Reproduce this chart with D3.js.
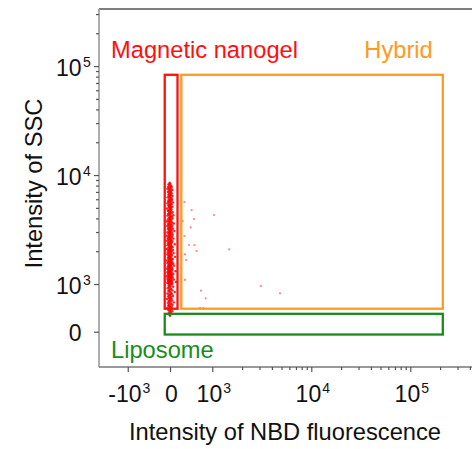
<!DOCTYPE html>
<html><head><meta charset="utf-8">
<script src="https://cdn.jsdelivr.net/npm/d3@7"></script>
<style>
body{margin:0;background:#fff}
svg{display:block}
text{font-family:"Liberation Sans",Arial,Helvetica,sans-serif}
</style>
</head><body>
<svg id="chart" width="472" height="449"></svg>
<script>
// ---------- data ----------
const xDomain = [-1680, 420000];      // NBD fluorescence
const yDomain = [-740, 334000];       // SSC
const xMajorTicks = [-1000, 0, 1000, 10000, 100000];
const xMajorLabels = [["-10","3"],["0",""],["10","3"],["10","4"],["10","5"]];
const xMinorTicks = [2000,3000,4000,5000,6000,7000,8000,9000,20000,30000,40000,50000,60000,70000,80000,90000,200000,300000,400000];
const yMajorTicks = [0, 1000, 10000, 100000];
const yMajorLabels = [["0",""],["10","3"],["10","4"],["10","5"]];
const yMinorTicks = [2000,3000,4000,5000,6000,7000,8000,9000,20000,30000,40000,50000,60000,70000,80000,90000,200000,300000];

const gateNames  = ["Magnetic nanogel", "Hybrid", "Liposome"];
const gateNBDmin = [-125, 267, -125];
const gateNBDmax = [177, 213000, 213000];
const gateSSCmin = [482, 482, -59];
const gateSSCmax = [83200, 83200, 375];
const gateColors = ["#ff1010", "#ff9a22", "#1a8c1a"];

// events [NBD, SSC]
const coreEvents = [
[-10,8520],[5,8310],[-35,8250],[-20,8090],[25,8020],
[-5,7880],[-45,7820],[40,7760],[10,7640],[-25,7560],[-60,7490],
[30,7420],[-15,7350],[55,7280],[-30,7200],[0,7130],[20,7060],
[-50,6990],[15,6920],[-5,6860],[45,6790],[-20,6730],[5,6660],
[-40,6610],[25,6540],[-10,6480],[60,6420],[-25,6360],[10,6300],
[-55,6240],[-5,6180],[35,6120],[15,6060],[-30,6000],[50,5940],
[-15,5880],[5,5830],[-45,5770],[30,5720],[-20,5670],[70,5610],
[-5,5560],[-60,5510],[20,5460],[40,5410],[-25,5360],[0,5310],
[-40,5260],[15,5210],[-10,5160],[55,5120],[-30,5080],[25,5030],
[-15,4980],[-70,4940],[10,4890],[35,4850],[-5,4800],[-35,4760],
[20,4720],[-50,4680],[0,4630],[65,4590],[-20,4550],[15,4510],
[-10,4470],[40,4430],[-45,4390],[5,4350],[-25,4310],[80,4270],
[-60,4240],[25,4200],[-5,4160],[45,4130],[-15,4090],[10,4050],
[-35,4020],[60,3990],[-5,3950],[20,3920],[-55,3880],[0,3850],
[-20,3820],[35,3780],[-75,3750],[10,3720],[-30,3690],[50,3650],
[-10,3620],[90,3590],[-45,3560],[25,3530],[-5,3500],[-25,3470],
[55,3440],[-65,3410],[15,3380],[-15,3350],[40,3320],[-40,3290],
[5,3270],[-20,3240],[70,3210],[-50,3190],[20,3160],[-5,3140],
[35,3110],[-30,3090],[100,3060],[-10,3040],[15,3010],[-60,2990],
[45,2970],[-25,2940],[0,2920],[-40,2900],[30,2870],[-15,2850],
[65,2830],[-5,2800],[-80,2780],[10,2760],[-35,2740],[50,2720],
[-20,2700],[25,2680],[-55,2650],[5,2630],[80,2610],[-10,2590],
[-45,2570],[35,2550],[-25,2530],[15,2510],[-70,2490],[55,2470],
[-5,2450],[-30,2430],[20,2410],[40,2390],[-50,2370],[0,2350],
[-15,2340],[110,2320],[-35,2300],[25,2280],[-60,2265],[10,2250],
[-20,2230],[45,2210],[-5,2195],[60,2180],[-40,2160],[15,2145],
[-10,2130],[30,2110],[-75,2095],[5,2080],[-25,2065],[70,2050],
[-45,2035],[20,2020],[-5,2005],[40,1990],[-15,1975],[-55,1960],
[10,1945],[85,1930],[-30,1915],[-5,1900],[25,1885],[-65,1870],
[50,1855],[-20,1840],[5,1828],[-40,1815],[30,1800],[-10,1787],
[120,1775],[-30,1762],[15,1750],[-50,1738],[0,1725],[45,1712],
[-15,1700],[65,1688],[-35,1676],[20,1665],[-5,1653],[-80,1642],
[35,1630],[-25,1619],[10,1608],[-45,1597],[55,1586],[-10,1575],
[25,1565],[-60,1555],[0,1544],[75,1534],[-20,1524],[40,1514],
[-5,1504],[-40,1494],[15,1484],[95,1475],[-30,1465],[-10,1456],
[30,1446],[-55,1437],[10,1428],[-15,1419],[50,1410],[-35,1401],
[5,1392],[-70,1383],[25,1375],[-5,1366],[60,1358],[-25,1350],
[15,1341],[-45,1333],[40,1325],[-10,1317],[130,1309],[-30,1301],
[20,1293],[-60,1285],[0,1278],[45,1270],[-15,1263],[-40,1255],
[10,1248],[80,1240],[-20,1233],[-50,1226],[30,1219],[-5,1212],
[55,1205],[-30,1198],[15,1191],[-10,1184],[-75,1177],[35,1170],
[5,1164],[-25,1157],[65,1151],[-45,1144],[20,1138],[-5,1132],
[40,1126],[-15,1120],[-60,1113],[10,1107],[90,1101],[-30,1095],
[-5,1090],[25,1084],[-50,1078],[50,1072],[-20,1067],[0,1061],
[-35,1056],[15,1050],[140,1045],[-10,1040],[35,1034],[-65,1029],
[5,1024],[-25,1019],[60,1014],[-45,1009],[20,1004],[-5,1000],
[40,990],[-15,978],[-35,965],[10,955],[75,943],[-25,932],
[-5,920],[-55,910],[30,898],[15,887],[-20,876],[55,866],
[-40,855],[0,845],[110,834],[-10,823],[25,812],[-60,802],
[45,791],[-30,781],[5,771],[-15,760],[70,750],[-45,740],
[20,729],[-5,719],[-25,709],[35,698],[-70,688],[10,678],
[-10,667],[50,657],[-35,647],[15,636],[-20,626],[90,616],
[-50,605],[0,595],[30,585],[-15,574],[60,564],[-40,554],
[5,543],[-25,533],[40,523],[-5,512],[-60,502],[20,492],
[35,481],[-20,471],[0,461],[-35,450],[10,440],[55,430],
[-10,420],[20,405],[-30,390],[5,375],[-15,355],[0,335]
];
const outlierEvents = [
[338,5650],[513,4770],[1040,4300],[567,3950],[300,3780],[489,3310],
[338,2760],[449,2280],[574,2280],[631,2010],[1485,2080],[355,1870],
[378,1660],[355,1090],[3100,958],[733,860],[4830,805],[844,700],
[709,497],[787,497]
];

// ---------- scales ----------
function biexTransform(linDecades){
  return v => v <= 1000 ? (v / 1000) * linDecades : linDecades + Math.log10(v / 1000);
}
const tx = biexTransform(0.427), ty = biexTransform(0.4376);
const plotLeft = 99, plotRight = 472, plotTop = 9, plotBottom = 367;
const xT = d3.scaleLinear().domain(xDomain.map(tx)).range([plotLeft, plotRight]);
const yT = d3.scaleLinear().domain(yDomain.map(ty)).range([plotBottom, plotTop]);
const x = v => xT(tx(v));
const y = v => yT(ty(v));

const svg = d3.select("#chart");

// frame
svg.append("line").attr("x1", plotLeft).attr("x2", plotRight).attr("y1", plotTop).attr("y2", plotTop)
  .attr("stroke", "#555").attr("stroke-width", 1.6);
svg.append("line").attr("x1", plotLeft).attr("x2", plotLeft).attr("y1", plotTop).attr("y2", plotBottom)
  .attr("stroke", "#9a9a9a").attr("stroke-width", 1.6);
svg.append("line").attr("x1", plotLeft).attr("x2", plotRight).attr("y1", plotBottom).attr("y2", plotBottom)
  .attr("stroke", "#777").attr("stroke-width", 1.6);

// axes ticks
function tickAxis(axis, g){ g.call(axis); g.select(".domain").remove(); g.selectAll("line").attr("stroke", "#555").attr("stroke-width", 1.2); }
tickAxis(d3.axisBottom(xT).tickValues(xMajorTicks.map(tx)).tickSize(5).tickFormat(""),
  svg.append("g").attr("transform", `translate(0,${plotBottom})`));
tickAxis(d3.axisBottom(xT).tickValues(xMinorTicks.map(tx)).tickSize(3).tickFormat(""),
  svg.append("g").attr("transform", `translate(0,${plotBottom})`));
tickAxis(d3.axisLeft(yT).tickValues(yMajorTicks.map(ty)).tickSize(5).tickFormat(""),
  svg.append("g").attr("transform", `translate(${plotLeft},0)`));
tickAxis(d3.axisLeft(yT).tickValues(yMinorTicks.map(ty)).tickSize(3).tickFormat(""),
  svg.append("g").attr("transform", `translate(${plotLeft},0)`));

// x tick labels
const xl = svg.append("g").selectAll("text").data(xMajorTicks).join("text")
  .attr("x", d => x(d) + 1.5).attr("y", 401.5).attr("text-anchor", "middle")
  .attr("fill", "#111").attr("font-size", 23);
xl.append("tspan").text((d, i) => xMajorLabels[i][0]);
xl.append("tspan").attr("dy", -9).attr("dx", 1).attr("font-size", 14).text((d, i) => xMajorLabels[i][1]);

// y tick labels
svg.append("g").selectAll("text").data(yMajorTicks).join("text")
  .attr("x", 81.5).attr("y", d => y(d) + 9.5).attr("text-anchor", "end")
  .attr("fill", "#111").attr("font-size", 23).text((d, i) => yMajorLabels[i][0]);
svg.append("g").selectAll("text").data(yMajorTicks).join("text")
  .attr("x", 83).attr("y", d => y(d) + 1).attr("fill", "#111").attr("font-size", 14)
  .text((d, i) => yMajorLabels[i][1]);

// axis titles
svg.append("text").attr("x", 285).attr("y", 440).attr("text-anchor", "middle")
  .attr("font-size", 23.7).attr("fill", "#111").text("Intensity of NBD fluorescence");
svg.append("text").attr("transform", "translate(41.5,183.5) rotate(-90)").attr("text-anchor", "middle")
  .attr("font-size", 23.7).attr("fill", "#111").text("Intensity of SSC");

// events
svg.append("g").selectAll("circle").data(coreEvents).join("circle")
  .attr("cx", d => x(d[0])).attr("cy", d => y(d[1])).attr("r", 1.2)
  .attr("fill", "#ff0000").attr("fill-opacity", 0.85);
svg.append("g").selectAll("circle").data(outlierEvents).join("circle")
  .attr("cx", d => x(d[0])).attr("cy", d => y(d[1])).attr("r", 1.1)
  .attr("fill", "#ff3030").attr("fill-opacity", 0.6);

// gates
svg.append("g").selectAll("rect").data(gateNames).join("rect")
  .attr("x", (d, i) => x(gateNBDmin[i])).attr("y", (d, i) => y(gateSSCmax[i]))
  .attr("width", (d, i) => x(gateNBDmax[i]) - x(gateNBDmin[i]))
  .attr("height", (d, i) => y(gateSSCmin[i]) - y(gateSSCmax[i]))
  .attr("fill", "none").attr("stroke", (d, i) => gateColors[i]).attr("stroke-width", 2.3);

// gate labels
svg.append("text").attr("x", 111).attr("y", 58.3).attr("font-size", 23.7).attr("fill", gateColors[0]).text(gateNames[0]);
svg.append("text").attr("x", 364.3).attr("y", 58.3).attr("font-size", 23.7).attr("fill", gateColors[1]).text(gateNames[1]);
svg.append("text").attr("x", 111).attr("y", 358.3).attr("font-size", 23.7).attr("fill", gateColors[2]).text(gateNames[2]);
</script>
</body></html>
